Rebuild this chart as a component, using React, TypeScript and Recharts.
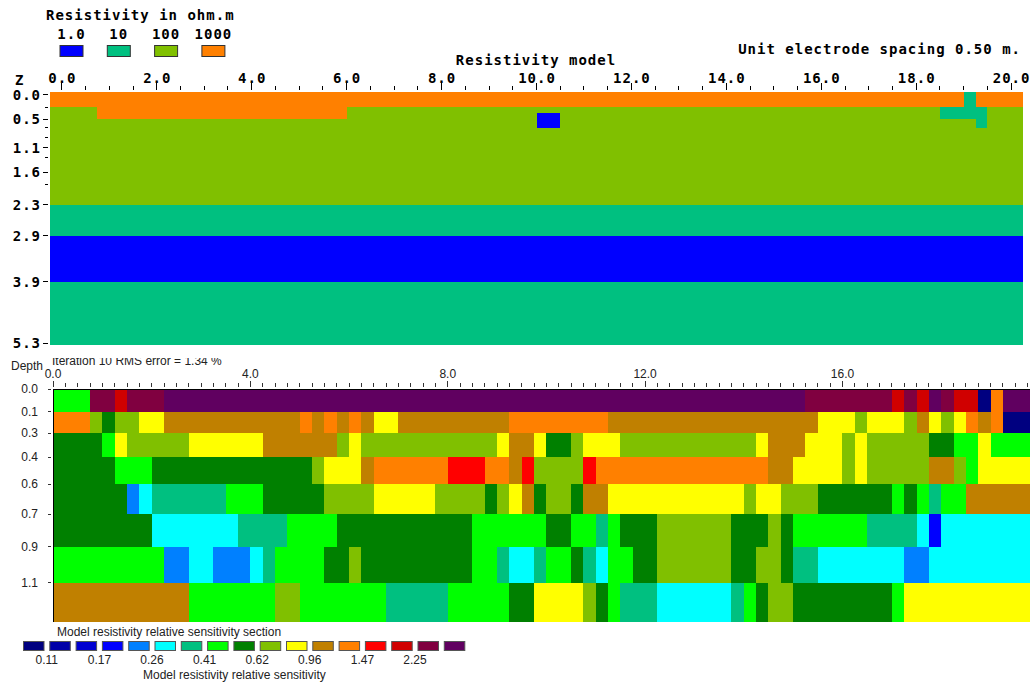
import { ComposedChart, ReferenceArea, XAxis, YAxis } from "recharts";

const MONO = "'DejaVu Sans Mono', 'Liberation Mono', monospace";
const NARROW = "'Liberation Sans Narrow', 'Liberation Sans', Arial, sans-serif";

// ---------- resistivity model (upper section) ----------
const resLegendValues = [1, 10, 100, 1000];
const resLegendLabels = ["1.0", "10", "100", "1000"];
const resColors: Record<number, string> = {
  1: "#0000ff",
  10: "#00c080",
  100: "#80c000",
  1000: "#ff8000",
};

const modelXLabels = ["0.0", "2.0", "4.0", "6.0", "8.0", "10.0", "12.0", "14.0", "16.0", "18.0", "20.0"];
const modelDepthTicks = [0, 0.271, 0.519, 0.699, 0.912, 1.126, 1.34, 1.652, 1.923, 2.35, 3.006, 3.989, 5.299];
const modelDepthLabels = ["0.0", "", "0.5", "", "", "1.1", "", "1.6", "", "2.3", "2.9", "3.9", "5.3"];

// [x from, x to, depth top, depth bottom, resistivity]
const modelLayers = [
  [-0.25, 20.25, -0.06, 0.27, 1000],
  [-0.25, 20.25, 0.27, 2.35, 100],
  [-0.25, 20.25, 2.35, 3.01, 10],
  [-0.25, 20.25, 3.01, 3.99, 1],
  [-0.25, 20.25, 3.99, 5.34, 10],
];
const modelBodies = [
  [0.75, 6.0, 0.27, 0.52, 1000],
  [10.0, 10.5, 0.39, 0.7, 1],
  [19.0, 19.25, -0.06, 0.27, 10],
  [18.5, 19.5, 0.27, 0.52, 10],
  [19.25, 19.5, 0.52, 0.7, 10],
];

// ---------- relative sensitivity section (lower section) ----------
const sensKeys = "nvwbactldgyorekmp";
const sensColors = [
  "#000080", "#0000a8", "#0000d0", "#0000ff", "#0080ff", "#00ffff", "#00c080", "#00ff00", "#008000",
  "#80c000", "#ffff00", "#c08000", "#ff8000", "#ff0000", "#d00000", "#800040", "#600060",
];
const sensLegendLabels = ["0.11", "0.17", "0.26", "0.41", "0.62", "0.96", "1.47", "2.25"];
const sensXLabels = ["0.0", "4.0", "8.0", "12.0", "16.0"];
const sensDepths = [0, 0.137, 0.269, 0.414, 0.576, 0.757, 0.955, 1.172, 1.41];
const sensDepthLabels = ["0.0", "0.1", "0.3", "0.4", "0.6", "0.7", "0.9", "1.1"];
const cellWidth = 0.25;

// run-length rows: class key + number of 0.25 m cells
const sensRows = [
  "l3 m2 k1 m3 p52 m7 k1 m1 k1 p1 m1 k2 n1 r1 p3",
  "r3 g1 d1 g2 y2 o11 r1 o1 r1 o1 r1 o1 y2 o9 r8 o17 y3 g1 y3 g1 o1 y1 g1 y1 r1 o1 r1 n3",
  "d4 l1 y1 g5 y6 o6 g1 y1 g11 y1 o2 y1 d2 g1 y3 g11 y1 o3 y3 g1 y1 g5 d2 l2 y1 l4",
  "d5 l3 d13 g1 y3 o1 r6 e3 r2 o1 e1 g4 e1 r14 o2 y4 g1 y1 g5 o2 g1 l1 y5",
  "d6 a1 c1 t6 l3 d5 g4 y5 g4 d1 g1 y1 o1 d1 g2 d1 o2 y11 g1 y2 g3 d6 l1 d1 l1 t1 l2 o6",
  "d8 c7 t4 l4 d11 l6 d2 l2 t1 l1 d3 g6 d3 g1 d1 l6 t4 c1 b1 c8",
  "l9 a2 c2 a3 c1 t1 l4 d2 g1 d9 l2 t1 c2 t1 l2 d1 t1 c1 l2 d2 g6 d2 g2 d1 t2 c7 a2 c9",
  "o11 l7 g2 l7 t5 l5 d2 y4 g1 d1 l1 t3 c6 t1 l1 d1 g2 d8 l1 y11",
];

const sensCells = sensRows.flatMap((row, r) => {
  let start = 0;
  return row.split(" ").map((tok) => {
    const n = parseInt(tok.slice(1), 10);
    const cell = {
      color: sensColors[sensKeys.indexOf(tok[0])],
      x1: start * cellWidth,
      x2: (start + n) * cellWidth,
      y1: sensDepths[r],
      y2: sensDepths[r + 1],
    };
    start += n;
    return cell;
  });
});

const modelXTicks = Array.from({ length: 41 }, (_, i) => i * 0.5);
const sensXTicks = Array.from({ length: 80 }, (_, i) => i * cellWidth);

function ModelXTick(props: any) {
  const { x, y, payload } = props;
  const v = payload.value;
  const major = Math.abs(v / 2 - Math.round(v / 2)) < 1e-6;
  return (
    <g>
      <line x1={x} x2={x} y1={y} y2={y - (major ? 7 : 4)} stroke="#000" />
      {major && (
        <text x={x + 0.5} y={y - 7} textAnchor="middle" fontFamily={MONO} fontWeight="bold" fontSize={14} letterSpacing={1} fill="#000">
          {modelXLabels[Math.round(v / 2)]}
        </text>
      )}
    </g>
  );
}

function ModelYTick(props: any) {
  const { x, y, payload } = props;
  const label = modelDepthLabels[modelDepthTicks.indexOf(payload.value)];
  return (
    <g>
      <line x1={x} x2={x - (label ? 5 : 3)} y1={y} y2={y} stroke="#000" />
      {label && (
        <text x={x - 7} y={y + 5} textAnchor="end" fontFamily={MONO} fontWeight="bold" fontSize={14} letterSpacing={1} fill="#000">
          {label}
        </text>
      )}
    </g>
  );
}

function SensXTick(props: any) {
  const { x, y, payload } = props;
  const v = payload.value;
  const major = Math.abs(v / 4 - Math.round(v / 4)) < 1e-6;
  return (
    <g>
      <line x1={x} x2={x} y1={y} y2={y - (major ? 6 : 4)} stroke="#333" />
      {major && (
        <text x={x} y={y - 9} textAnchor="middle" fontFamily={NARROW} fontSize={12} fill="#222">
          {sensXLabels[Math.round(v / 4)]}
        </text>
      )}
    </g>
  );
}

function SensYTick(props: any) {
  const { x, y, payload } = props;
  const label = sensDepthLabels[sensDepths.indexOf(payload.value)];
  return (
    <g>
      <line x1={x} x2={x - 3} y1={y} y2={y} stroke="#333" />
      <text x={x - 13} y={y + 4} textAnchor="end" fontFamily={NARROW} fontSize={12} fill="#222">
        {label}
      </text>
    </g>
  );
}

export default function App() {
  return (
    <div style={{ position: "absolute", left: 0, top: 0, width: 1032, height: 684, overflow: "hidden", background: "#fff" }}>
      {/* header texts and resistivity legend */}
      <svg width={1032} height={92} style={{ position: "absolute", left: 0, top: 0 }}>
        <g fontFamily={MONO} fontWeight="bold" fontSize={14} letterSpacing={1} fill="#000">
          <text x={46} y={20}>Resistivity in ohm.m</text>
          {resLegendValues.map((v, i) => (
            <g key={v}>
              <text x={71.5 + i * 47.3} y={38.5} textAnchor="middle">{resLegendLabels[i]}</text>
              <rect x={60 + i * 47.3} y={45.5} width={23} height={11} fill={resColors[v]} stroke="#333" />
            </g>
          ))}
          <text x={536} y={65} textAnchor="middle">Resistivity model</text>
          <text x={1021} y={54} textAnchor="end">Unit electrode spacing 0.50 m.</text>
          <text x={15} y={85}>Z</text>
        </g>
      </svg>

      <div style={{ position: "absolute", left: 0, top: 0, shapeRendering: "crispEdges" }}>
        <ComposedChart width={1032} height={350} data={modelLayers} margin={{ top: 62, right: 9, bottom: 5, left: 0 }}>
          <XAxis
            type="number"
            dataKey="0"
            orientation="top"
            domain={[-0.25, 20.25]}
            allowDataOverflow
            ticks={modelXTicks}
            interval={0}
            height={30}
            tickSize={0}
            tickLine={false}
            axisLine={false}
            tick={(p: any) => <ModelXTick {...p} />}
          />
          <YAxis
            type="number"
            dataKey="2"
            domain={[-0.06, 5.34]}
            allowDataOverflow
            reversed
            ticks={modelDepthTicks}
            interval={0}
            width={50}
            tickSize={0}
            tickLine={false}
            axisLine={false}
            tick={(p: any) => <ModelYTick {...p} />}
          />
          {[...modelLayers, ...modelBodies].map((b, i) => (
            <ReferenceArea
              key={`m${i}`}
              x1={b[0]}
              x2={b[1]}
              y1={b[2]}
              y2={b[3]}
              fill={resColors[b[4]]}
              fillOpacity={1}
              stroke="none"
              ifOverflow="hidden"
            />
          ))}
        </ComposedChart>
      </div>

      {/* partly hidden iteration caption and depth label */}
      <svg width={400} height={30} style={{ position: "absolute", left: 0, top: 358 }}>
        <text x={52} y={6.5} fontFamily={NARROW} fontSize={12} fill="#222">Iteration 10 RMS error = 1.34 %</text>
        <text x={11} y={12} fontFamily={NARROW} fontSize={12} fill="#222">Depth</text>
      </svg>

      <div style={{ position: "absolute", left: 0, top: 358, shapeRendering: "crispEdges" }}>
        <ComposedChart width={1032} height={268} data={sensCells} margin={{ top: 0, right: 2, bottom: 4, left: 0 }}>
          <XAxis
            type="number"
            dataKey="x1"
            orientation="top"
            domain={[0, 19.8]}
            allowDataOverflow
            ticks={sensXTicks}
            interval={0}
            height={31}
            tickSize={0}
            tickLine={false}
            axisLine={{ stroke: "#000" }}
            tick={(p: any) => <SensXTick {...p} />}
          />
          <YAxis
            type="number"
            dataKey="y1"
            domain={[0, 1.41]}
            allowDataOverflow
            reversed
            ticks={sensDepths.slice(0, 8)}
            interval={0}
            width={53}
            tickSize={0}
            tickLine={false}
            axisLine={{ stroke: "#000" }}
            tick={(p: any) => <SensYTick {...p} />}
          />
          {sensCells.map((c, i) => (
            <ReferenceArea
              key={`s${i}`}
              x1={c.x1}
              x2={c.x2}
              y1={c.y1}
              y2={c.y2}
              fill={c.color}
              fillOpacity={1}
              stroke="none"
              ifOverflow="hidden"
            />
          ))}
        </ComposedChart>
      </div>

      {/* sensitivity legend */}
      <svg width={480} height={60} style={{ position: "absolute", left: 0, top: 624 }}>
        <g fontFamily={NARROW} fontSize={12} fill="#222">
          <text x={57} y={12}>Model resistivity relative sensitivity section</text>
          {sensColors.map((c, i) => (
            <rect key={c} x={23.5 + i * 26.3} y={17.5} width={20.5} height={9} fill={c} stroke="#555" />
          ))}
          {sensLegendLabels.map((l, j) => (
            <text key={l} x={46.8 + j * 52.6} y={40} textAnchor="middle">{l}</text>
          ))}
          <text x={143} y={55}>Model resistivity relative sensitivity</text>
        </g>
      </svg>
    </div>
  );
}
